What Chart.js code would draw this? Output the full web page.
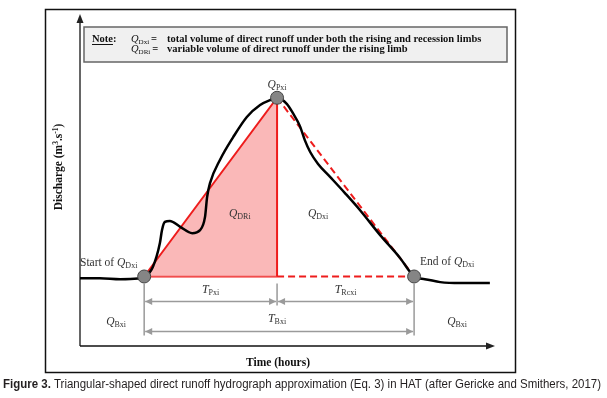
<!DOCTYPE html>
<html>
<head>
<meta charset="utf-8">
<script src="https://cdn.jsdelivr.net/npm/chart.js@4.4.0/dist/chart.umd.min.js"></script>
<style>
  html, body { margin: 0; padding: 0; background: #fff; }
  #wrap { width: 607px; height: 398px; }
</style>
</head>
<body>
<div id="wrap"><canvas id="hydro" width="607" height="398"></canvas></div>
<script>
// observed hydrograph (time in arbitrary hours, discharge in arbitrary units)
const hydroTime = [0, 4.8, 9.7, 14.0, 15.5, 17.6, 19.3, 19.8, 20.5, 21.7, 24.2, 27.1, 29.0, 30.2, 30.7, 31.4,
  33.8, 37.0, 40.3, 43.5, 45.9, 47.6, 50.0, 51.4, 53.1, 54.3, 55.6, 57.5, 60.4, 64.0, 67.6, 72.5, 77.3, 79.7,
  80.7, 83.3, 87.0, 91.8, 99.0];
const hydroQ = [20.5, 20.5, 20.2, 20.4, 20.8, 23.9, 31.1, 35.0, 37.5, 37.8, 36.0, 34.1, 35.0, 39.0, 45.0, 49.2,
  56.2, 63.1, 69.2, 72.8, 74.3, 74.9, 73.1, 70.4, 66.5, 62.2, 58.6, 55.0, 51.1, 46.2, 41.1, 33.5, 26.6, 22.4,
  20.8, 20.2, 19.3, 19.0, 19.0];

// triangular approximation: start, peak, end
const keyTime = [15.5, 47.6, 80.7];
const keyQ = [21, 75, 21];
const baseQ = 21;

const noteLines = [
  ['Dxi', 'total volume of direct runoff under both the rising and recession limbs'],
  ['DRi', 'variable volume of direct runoff under the rising limb']
];
const captionBold = 'Figure 3.';
const captionText = ' Triangular-shaped direct runoff hydrograph approximation (Eq. 3) in HAT (after Gericke and Smithers, 2017)';

const SERIF = '"Liberation Serif", "DejaVu Serif", serif';
const SANS = '"Liberation Sans", Arial, sans-serif';

const pt = (i) => ({ x: keyTime[i], y: keyQ[i] });

// Q with subscript, centred or left aligned
function drawQ(ctx, x, y, sub, size, align) {
  ctx.save();
  ctx.textBaseline = 'alphabetic';
  ctx.textAlign = 'left';
  ctx.font = `italic ${size}px ${SERIF}`;
  const wq = ctx.measureText('Q').width;
  const subSize = Math.round(size * 0.68);
  ctx.font = `${subSize}px ${SERIF}`;
  const ws = ctx.measureText(sub).width;
  let x0 = align === 'center' ? x - (wq + ws) / 2 : x;
  ctx.font = `italic ${size}px ${SERIF}`;
  ctx.fillText('Q', x0, y);
  ctx.font = `${subSize}px ${SERIF}`;
  ctx.fillText(sub, x0 + wq, y + 2);
  ctx.restore();
  return wq + ws;
}

function drawT(ctx, x, y, sub, size) {
  ctx.save();
  ctx.textBaseline = 'alphabetic';
  ctx.textAlign = 'left';
  ctx.font = `italic ${size}px ${SERIF}`;
  const wt = ctx.measureText('T').width;
  const subSize = Math.round(size * 0.68);
  ctx.font = `${subSize}px ${SERIF}`;
  const ws = ctx.measureText(sub).width;
  const x0 = x - (wt + ws) / 2;
  ctx.font = `italic ${size}px ${SERIF}`;
  ctx.fillText('T', x0, y);
  ctx.font = `${subSize}px ${SERIF}`;
  ctx.fillText(sub, x0 + wt, y + 2);
  ctx.restore();
}

function dimArrow(ctx, x1, x2, y) {
  ctx.beginPath();
  ctx.moveTo(x1 + 1, y);
  ctx.lineTo(x2 - 1, y);
  ctx.stroke();
  [[x1, 1], [x2, -1]].forEach(([x, d]) => {
    ctx.beginPath();
    ctx.moveTo(x + d, y);
    ctx.lineTo(x + d * 8, y - 3.5);
    ctx.lineTo(x + d * 8, y + 3.5);
    ctx.closePath();
    ctx.fill();
  });
}

const decorPlugin = {
  id: 'decor',
  beforeDraw(chart) {
    const ctx = chart.ctx;
    const { left, right, top, bottom } = chart.chartArea;
    ctx.save();
    ctx.fillStyle = '#fff';
    ctx.fillRect(0, 0, chart.width, chart.height);

    // outer frame
    ctx.strokeStyle = '#111';
    ctx.lineWidth = 1.5;
    ctx.strokeRect(45.5, 9.5, 470, 363);

    // y axis
    ctx.strokeStyle = '#666';
    ctx.lineWidth = 2;
    ctx.beginPath();
    ctx.moveTo(left, bottom);
    ctx.lineTo(left, top + 6);
    ctx.stroke();
    ctx.fillStyle = '#222';
    ctx.beginPath();
    ctx.moveTo(left, top - 1);
    ctx.lineTo(left - 3.5, top + 8);
    ctx.lineTo(left + 3.5, top + 8);
    ctx.closePath();
    ctx.fill();

    // x axis
    ctx.strokeStyle = '#111';
    ctx.lineWidth = 1.5;
    ctx.beginPath();
    ctx.moveTo(left, bottom);
    ctx.lineTo(right - 6, bottom);
    ctx.stroke();
    ctx.beginPath();
    ctx.moveTo(right + 1, bottom);
    ctx.lineTo(right - 8, bottom - 3.5);
    ctx.lineTo(right - 8, bottom + 3.5);
    ctx.closePath();
    ctx.fill();

    // note box
    ctx.fillStyle = '#f0f0f0';
    ctx.fillRect(84, 27, 423, 35);
    ctx.strokeStyle = '#666';
    ctx.lineWidth = 1.5;
    ctx.strokeRect(84, 27, 423, 35);

    ctx.fillStyle = '#111';
    ctx.font = `bold 10.5px ${SERIF}`;
    ctx.textBaseline = 'alphabetic';
    ctx.fillText('Note:', 92, 42);
    const wn = ctx.measureText('Note').width;
    ctx.fillRect(92, 44, wn, 1);
    noteLines.forEach(([sub, text], i) => {
      const y = 42 + i * 10;
      const w = drawQ(ctx, 131, y, sub, 10.5, 'left');
      ctx.font = `bold 10.5px ${SERIF}`;
      ctx.fillText('=', 131 + w + 2, y);
      ctx.fillText(text, 167, y);
    });
    ctx.restore();
  },
  afterDatasetsDraw(chart) {
    const ctx = chart.ctx;
    const xs = chart.scales.x, ys = chart.scales.y;
    const { left, bottom } = chart.chartArea;
    const xStart = xs.getPixelForValue(keyTime[0]);
    const xPeak = xs.getPixelForValue(keyTime[1]);
    const xEnd = xs.getPixelForValue(keyTime[2]);
    const yBase = ys.getPixelForValue(baseQ);
    const yPeak = ys.getPixelForValue(keyQ[1]);
    ctx.save();

    // dimension lines
    ctx.strokeStyle = '#9a9a9a';
    ctx.fillStyle = '#9a9a9a';
    ctx.lineWidth = 1.5;
    ctx.beginPath();
    ctx.moveTo(xStart, yBase + 7); ctx.lineTo(xStart, yBase + 59);
    ctx.moveTo(xEnd, yBase + 7); ctx.lineTo(xEnd, yBase + 59);
    ctx.moveTo(xPeak, yBase + 7); ctx.lineTo(xPeak, yBase + 29);
    ctx.stroke();
    dimArrow(ctx, xStart, xPeak, yBase + 25);
    dimArrow(ctx, xPeak, xEnd, yBase + 25);
    dimArrow(ctx, xStart, xEnd, yBase + 55);

    ctx.fillStyle = '#333';
    drawT(ctx, (xStart + xPeak) / 2, yBase + 17, 'Pxi', 12);
    drawT(ctx, (xPeak + xEnd) / 2, yBase + 17, 'Rcxi', 12);
    drawT(ctx, xPeak, yBase + 46, 'Bxi', 12);
    drawQ(ctx, (left + xStart) / 2 + 4, yBase + 49, 'Bxi', 11.5, 'center');
    drawQ(ctx, xEnd + 43, yBase + 49, 'Bxi', 11.5, 'center');

    drawQ(ctx, xPeak, yPeak - 10, 'Pxi', 11.5, 'center');
    drawQ(ctx, xs.getPixelForValue(38.6), ys.getPixelForValue(39), 'DRi', 11.5, 'center');
    drawQ(ctx, xs.getPixelForValue(57.5), ys.getPixelForValue(39), 'Dxi', 11.5, 'center');

    ctx.font = `11.5px ${SERIF}`;
    ctx.textBaseline = 'alphabetic';
    ctx.fillText('Start of', 80, yBase - 10);
    const ws = ctx.measureText('Start of ').width;
    drawQ(ctx, 80 + ws, yBase - 10, 'Dxi', 11.5, 'left');
    ctx.fillText('End of', xEnd + 6, yBase - 11);
    const we = ctx.measureText('End of ').width;
    drawQ(ctx, xEnd + 6 + we, yBase - 11, 'Dxi', 11.5, 'left');

    // axis titles
    ctx.fillStyle = '#111';
    ctx.font = `bold 11.5px ${SERIF}`;
    ctx.textAlign = 'center';
    ctx.fillText('Time (hours)', 278, 366);
    ctx.save();
    ctx.translate(62, 167);
    ctx.rotate(-Math.PI / 2);
    ctx.textAlign = 'left';
    const a = 'Discharge (m', b = '.s', c = ')';
    const wa = ctx.measureText(a).width, wb = ctx.measureText(b).width;
    ctx.font = `bold 7.5px ${SERIF}`;
    const w3 = ctx.measureText('3').width, wm = ctx.measureText('-1').width;
    ctx.font = `bold 11.5px ${SERIF}`;
    const wc = ctx.measureText(c).width;
    let x0 = -(wa + w3 + wb + wm + wc) / 2;
    ctx.fillText(a, x0, 0); x0 += wa;
    ctx.font = `bold 7.5px ${SERIF}`;
    ctx.fillText('3', x0, -4); x0 += w3;
    ctx.font = `bold 11.5px ${SERIF}`;
    ctx.fillText(b, x0, 0); x0 += wb;
    ctx.font = `bold 7.5px ${SERIF}`;
    ctx.fillText('-1', x0, -4); x0 += wm;
    ctx.font = `bold 11.5px ${SERIF}`;
    ctx.fillText(c, x0, 0);
    ctx.restore();

    // caption, squeezed to the page width
    ctx.fillStyle = '#231f20';
    ctx.textAlign = 'left';
    ctx.font = `bold 12.5px ${SANS}`;
    const wb1 = ctx.measureText(captionBold).width;
    ctx.font = `12.5px ${SANS}`;
    const wt1 = ctx.measureText(captionText).width;
    const sx = 598 / (wb1 + wt1);
    ctx.save();
    ctx.translate(3, 388);
    ctx.scale(sx, 1);
    ctx.font = `bold 12.5px ${SANS}`;
    ctx.fillText(captionBold, 0, 0);
    ctx.font = `12.5px ${SANS}`;
    ctx.fillText(captionText, wb1, 0);
    ctx.restore();

    ctx.restore();
  }
};

const hydroData = hydroTime.map((t, i) => ({ x: t, y: hydroQ[i] }));

new Chart(document.getElementById('hydro'), {
  type: 'line',
  data: {
    datasets: [
      {
        // key points
        type: 'scatter',
        data: [pt(0), pt(1), pt(2)],
        pointRadius: 6.5,
        pointBackgroundColor: '#858585',
        pointBorderColor: '#444',
        pointBorderWidth: 1,
        showLine: false
      },
      {
        // observed hydrograph
        data: hydroData,
        borderColor: '#000',
        borderWidth: 2.5,
        pointRadius: 0,
        cubicInterpolationMode: 'monotone',
        fill: false
      },
      {
        // recession limb (dashed)
        data: [pt(1), pt(2)],
        borderColor: '#ee1c1c',
        borderWidth: 2,
        borderDash: [7, 4],
        pointRadius: 0,
        fill: false
      },
      {
        data: [{ x: keyTime[1], y: baseQ }, pt(2)],
        borderColor: '#ee1c1c',
        borderWidth: 2,
        borderDash: [7, 4],
        pointRadius: 0,
        fill: false
      },
      {
        // rising limb triangle
        data: [pt(0), pt(1), { x: keyTime[1], y: baseQ }],
        borderColor: '#ee1c1c',
        borderWidth: 2,
        pointRadius: 0,
        tension: 0,
        backgroundColor: 'rgba(248, 160, 160, 0.75)',
        fill: { value: baseQ }
      },
      {
        data: [pt(0), { x: keyTime[1], y: baseQ }],
        borderColor: '#ee1c1c',
        borderWidth: 2,
        pointRadius: 0,
        fill: false
      }
    ]
  },
  options: {
    responsive: false,
    animation: false,
    layout: { padding: { left: 80, right: 113, top: 15, bottom: 52 } },
    scales: {
      x: { type: 'linear', min: 0, max: 100, display: false },
      y: { min: 0, max: 100, display: false }
    },
    plugins: {
      legend: { display: false },
      tooltip: { enabled: false }
    }
  },
  plugins: [decorPlugin]
});
</script>
</body>
</html>
